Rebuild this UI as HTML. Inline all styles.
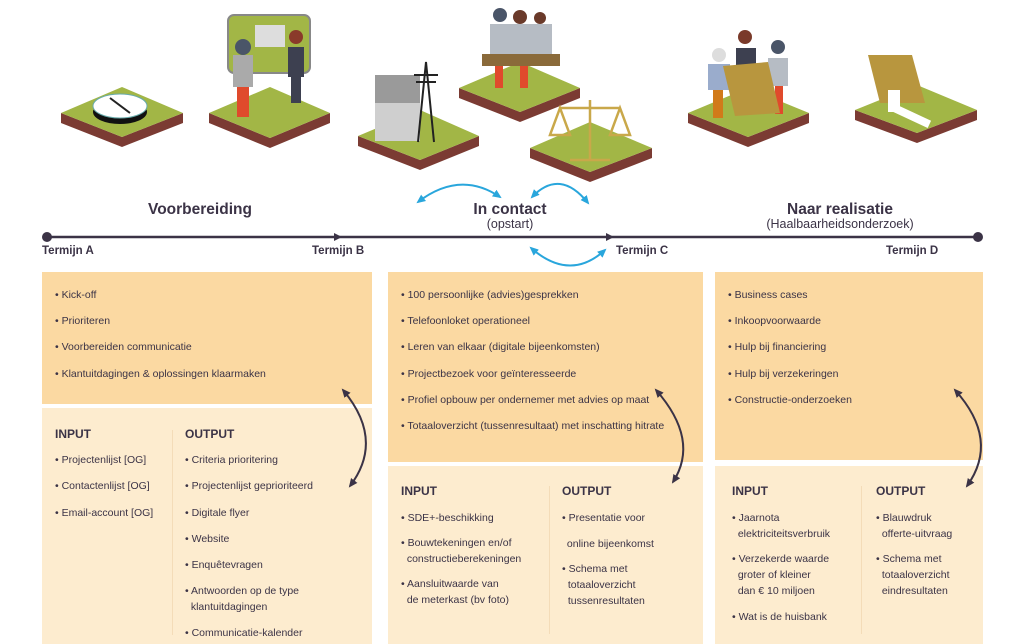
<!DOCTYPE html>
<html><head><meta charset="utf-8">
<style>
*{margin:0;padding:0;box-sizing:border-box}
body{width:1024px;height:644px;background:#fff;position:relative;overflow:hidden;font-family:"Liberation Sans",sans-serif;color:#3b3346}
.a{position:absolute}
.dark{background:#fbd9a2}
.light{background:#fdeccf}
.li{position:absolute;font-size:10.5px;color:#3b3346;white-space:nowrap;line-height:16px}
.h{position:absolute;font-size:12px;font-weight:bold;color:#3b3346}
.t{position:absolute;font-size:11.5px;font-weight:bold;color:#3b3346}
.title{position:absolute;font-size:15.5px;font-weight:bold;color:#3b3346;text-align:center}
.sub{position:absolute;font-size:12.5px;color:#3b3346;text-align:center}
</style></head><body>

<svg class="a" style="left:0;top:0" width="1024" height="644">
<defs>
<marker id="ab" markerUnits="userSpaceOnUse" markerWidth="10" markerHeight="10" refX="7" refY="5" orient="auto-start-reverse"><path d="M0,1 L9,5 L0,9 Z" fill="#29a6dc"/></marker>
</defs>
<g>
<polygon points="61,113 122,137 183,113 183,123 122,147 61,123" fill="#7b3b33"/>
<polygon points="61,113 122,87 183,113 122,137" fill="#a2b646"/>
<ellipse cx="120" cy="112" rx="27" ry="12" fill="#111"/>
<ellipse cx="120" cy="106" rx="27" ry="12" fill="#fff" stroke="#6aa" stroke-width="1"/>
<line x1="110" y1="98" x2="130" y2="113" stroke="#222" stroke-width="2"/>

<polygon points="209,113 270,138 330,113 330,123 270,148 209,123" fill="#7b3b33"/>
<polygon points="209,113 270,87 330,113 270,138" fill="#a2b646"/>
<rect x="228" y="15" width="82" height="58" rx="6" fill="#a2b646" stroke="#888" stroke-width="2"/>
<rect x="255" y="25" width="30" height="22" fill="#ddd"/>
<circle cx="243" cy="47" r="8" fill="#4a5568"/>
<rect x="233" y="55" width="20" height="32" fill="#aaa"/>
<rect x="237" y="87" width="12" height="30" fill="#e04a2c"/>
<circle cx="296" cy="37" r="7" fill="#8a3a2a"/>
<rect x="288" y="47" width="16" height="30" fill="#3d4050"/>
<rect x="291" y="77" width="10" height="26" fill="#3d4050"/>

<polygon points="358,136 420,160 479,136 479,146 420,170 358,146" fill="#7b3b33"/>
<polygon points="358,136 420,110 479,136 420,160" fill="#a2b646"/>
<rect x="375" y="75" width="45" height="66" fill="#cfcfcf"/>
<rect x="375" y="75" width="45" height="28" fill="#9a9a9a"/>
<path d="M418,142 L426,62 L434,142 M414,75 L438,75 M416,82 L436,82" stroke="#222" stroke-width="2" fill="none"/>

<polygon points="459,88 520,112 580,88 580,98 520,122 459,98" fill="#7b3b33"/>
<polygon points="459,88 520,62 580,88 520,112" fill="#a2b646"/>
<circle cx="500" cy="15" r="7" fill="#4a5568"/><circle cx="520" cy="17" r="7" fill="#6a3a2a"/><circle cx="540" cy="18" r="6" fill="#6a3a2a"/>
<rect x="490" y="24" width="62" height="30" fill="#b6bcc4"/>
<rect x="482" y="54" width="78" height="12" fill="#8a6a3a"/>
<rect x="495" y="66" width="8" height="22" fill="#e04a2c"/><rect x="520" y="66" width="8" height="22" fill="#e04a2c"/>

<polygon points="530,148 590,172 652,148 652,158 590,182 530,158" fill="#7b3b33"/>
<polygon points="530,148 590,122 652,148 590,172" fill="#a2b646"/>
<path d="M590,100 L590,160 M570,160 L610,160 M560,108 L620,108 M560,108 L550,135 L570,135 Z M620,108 L610,135 L630,135 Z" stroke="#c9a84a" stroke-width="2.5" fill="none"/>

<polygon points="688,113 748,137 809,113 809,123 748,147 688,123" fill="#7b3b33"/>
<polygon points="688,113 748,88 809,113 748,137" fill="#a2b646"/>
<circle cx="719" cy="55" r="7" fill="#ddd"/><circle cx="745" cy="37" r="7" fill="#7a3a2a"/><circle cx="778" cy="47" r="7" fill="#4a5568"/>
<rect x="708" y="64" width="22" height="26" fill="#9aaccc"/><rect x="736" y="48" width="20" height="20" fill="#3d4050"/><rect x="768" y="58" width="20" height="28" fill="#b6bcc4"/>
<rect x="713" y="90" width="10" height="28" fill="#d17a1a"/><rect x="775" y="86" width="8" height="28" fill="#e04a2c"/>
<polygon points="723,66 768,62 780,113 735,116" fill="#b8963e"/>

<polygon points="855,110 917,133 977,110 977,120 917,143 855,120" fill="#7b3b33"/>
<polygon points="855,110 917,85 977,110 917,133" fill="#a2b646"/>
<polygon points="868,55 912,55 925,103 880,103" fill="#b8963e"/>
<rect x="893" y="103" width="42" height="8" fill="#fff" transform="rotate(25 893 103)"/>
<rect x="888" y="90" width="12" height="22" fill="#fff"/>
</g>

<line x1="47" y1="237" x2="978" y2="237" stroke="#3b3346" stroke-width="2.5"/>
<circle cx="47" cy="237" r="5" fill="#3b3346"/>
<circle cx="978" cy="237" r="5" fill="#3b3346"/>
<path d="M334,233 L342,237 L334,241 Z" fill="#3b3346"/>
<path d="M606,233 L614,237 L606,241 Z" fill="#3b3346"/>

<path d="M418,202 Q460,170 500,197" stroke="#29a6dc" stroke-width="2" fill="none" marker-start="url(#ab)" marker-end="url(#ab)"/>
<path d="M532,197 Q560,168 588,203" stroke="#29a6dc" stroke-width="2" fill="none" marker-start="url(#ab)" marker-end="url(#ab)"/>
<path d="M531,248 Q570,282 605,250" stroke="#29a6dc" stroke-width="2" fill="none" marker-start="url(#ab)" marker-end="url(#ab)"/>
</svg>

<div class="title" style="left:120px;top:201px;width:160px">Voorbereiding</div>
<div class="title" style="left:440px;top:201px;width:140px">In contact</div>
<div class="sub" style="left:440px;top:217px;width:140px">(opstart)</div>
<div class="title" style="left:740px;top:201px;width:200px">Naar realisatie</div>
<div class="sub" style="left:720px;top:217px;width:240px">(Haalbaarheidsonderzoek)</div>

<div class="t" style="left:42px;top:245px">Termijn A</div>
<div class="t" style="left:312px;top:245px">Termijn B</div>
<div class="t" style="left:616px;top:245px">Termijn C</div>
<div class="t" style="left:886px;top:245px">Termijn D</div>

<div class="a dark" style="left:42px;top:272px;width:330px;height:132px"></div>
<div class="a light" style="left:42px;top:408px;width:330px;height:236px"></div>
<div class="li" style="left:55px;top:287px">• Kick-off</div>
<div class="li" style="left:55px;top:313px">• Prioriteren</div>
<div class="li" style="left:55px;top:339px">• Voorbereiden communicatie</div>
<div class="li" style="left:55px;top:366px">• Klantuitdagingen &amp; oplossingen klaarmaken</div>
<div class="h" style="left:55px;top:427px">INPUT</div>
<div class="h" style="left:185px;top:427px">OUTPUT</div>
<div class="a" style="left:172px;top:430px;width:1px;height:205px;background:#f4dcb8"></div>
<div class="li" style="left:55px;top:452px">• Projectenlijst [OG]</div>
<div class="li" style="left:55px;top:478px">• Contactenlijst [OG]</div>
<div class="li" style="left:55px;top:505px">• Email-account [OG]</div>
<div class="li" style="left:185px;top:452px">• Criteria prioritering</div>
<div class="li" style="left:185px;top:478px">• Projectenlijst geprioriteerd</div>
<div class="li" style="left:185px;top:505px">• Digitale flyer</div>
<div class="li" style="left:185px;top:531px">• Website</div>
<div class="li" style="left:185px;top:557px">• Enquêtevragen</div>
<div class="li" style="left:185px;top:583px">• Antwoorden op de type<br>&nbsp;&nbsp;klantuitdagingen</div>
<div class="li" style="left:185px;top:625px">• Communicatie-kalender</div>

<div class="a dark" style="left:388px;top:272px;width:315px;height:190px"></div>
<div class="a light" style="left:388px;top:466px;width:315px;height:178px"></div>
<div class="li" style="left:401px;top:287px">• 100 persoonlijke (advies)gesprekken</div>
<div class="li" style="left:401px;top:313px">• Telefoonloket operationeel</div>
<div class="li" style="left:401px;top:339px">• Leren van elkaar (digitale bijeenkomsten)</div>
<div class="li" style="left:401px;top:366px">• Projectbezoek voor geïnteresseerde</div>
<div class="li" style="left:401px;top:392px">• Profiel opbouw per ondernemer met advies op maat</div>
<div class="li" style="left:401px;top:418px">• Totaaloverzicht (tussenresultaat) met inschatting hitrate</div>
<div class="h" style="left:401px;top:484px">INPUT</div>
<div class="h" style="left:562px;top:484px">OUTPUT</div>
<div class="a" style="left:549px;top:486px;width:1px;height:148px;background:#f4dcb8"></div>
<div class="li" style="left:401px;top:510px">• SDE+-beschikking</div>
<div class="li" style="left:401px;top:535px">• Bouwtekeningen en/of<br>&nbsp;&nbsp;constructieberekeningen</div>
<div class="li" style="left:401px;top:576px">• Aansluitwaarde van<br>&nbsp;&nbsp;de meterkast (bv foto)</div>
<div class="li" style="left:562px;top:510px">• Presentatie voor</div>
<div class="li" style="left:564px;top:536px">&nbsp;online bijeenkomst</div>
<div class="li" style="left:562px;top:561px">• Schema met<br>&nbsp;&nbsp;totaaloverzicht<br>&nbsp;&nbsp;tussenresultaten</div>

<div class="a dark" style="left:715px;top:272px;width:268px;height:188px"></div>
<div class="a light" style="left:715px;top:466px;width:268px;height:178px"></div>
<div class="li" style="left:728px;top:287px">• Business cases</div>
<div class="li" style="left:728px;top:313px">• Inkoopvoorwaarde</div>
<div class="li" style="left:728px;top:339px">• Hulp bij financiering</div>
<div class="li" style="left:728px;top:366px">• Hulp bij verzekeringen</div>
<div class="li" style="left:728px;top:392px">• Constructie-onderzoeken</div>
<div class="h" style="left:732px;top:484px">INPUT</div>
<div class="h" style="left:876px;top:484px">OUTPUT</div>
<div class="a" style="left:861px;top:486px;width:1px;height:148px;background:#f4dcb8"></div>
<div class="li" style="left:732px;top:510px">• Jaarnota<br>&nbsp;&nbsp;elektriciteitsverbruik</div>
<div class="li" style="left:732px;top:551px">• Verzekerde waarde<br>&nbsp;&nbsp;groter of kleiner<br>&nbsp;&nbsp;dan € 10 miljoen</div>
<div class="li" style="left:732px;top:609px">• Wat is de huisbank</div>
<div class="li" style="left:876px;top:510px">• Blauwdruk<br>&nbsp;&nbsp;offerte-uitvraag</div>
<div class="li" style="left:876px;top:551px">• Schema met<br>&nbsp;&nbsp;totaaloverzicht<br>&nbsp;&nbsp;eindresultaten</div>

<svg class="a" style="left:0;top:0" width="1024" height="644">
<defs><marker id="ad2" markerUnits="userSpaceOnUse" markerWidth="10" markerHeight="10" refX="7" refY="5" orient="auto-start-reverse"><path d="M0,1 L9,5 L0,9 Z" fill="#3b3346"/></marker></defs>
<path d="M343,390 Q385,440 350,486" stroke="#3b3346" stroke-width="2" fill="none" marker-start="url(#ad2)" marker-end="url(#ad2)"/>
<path d="M656,390 Q700,440 673,482" stroke="#3b3346" stroke-width="2" fill="none" marker-start="url(#ad2)" marker-end="url(#ad2)"/>
<path d="M955,390 Q1000,440 967,486" stroke="#3b3346" stroke-width="2" fill="none" marker-start="url(#ad2)" marker-end="url(#ad2)"/>
</svg>
</body></html>
